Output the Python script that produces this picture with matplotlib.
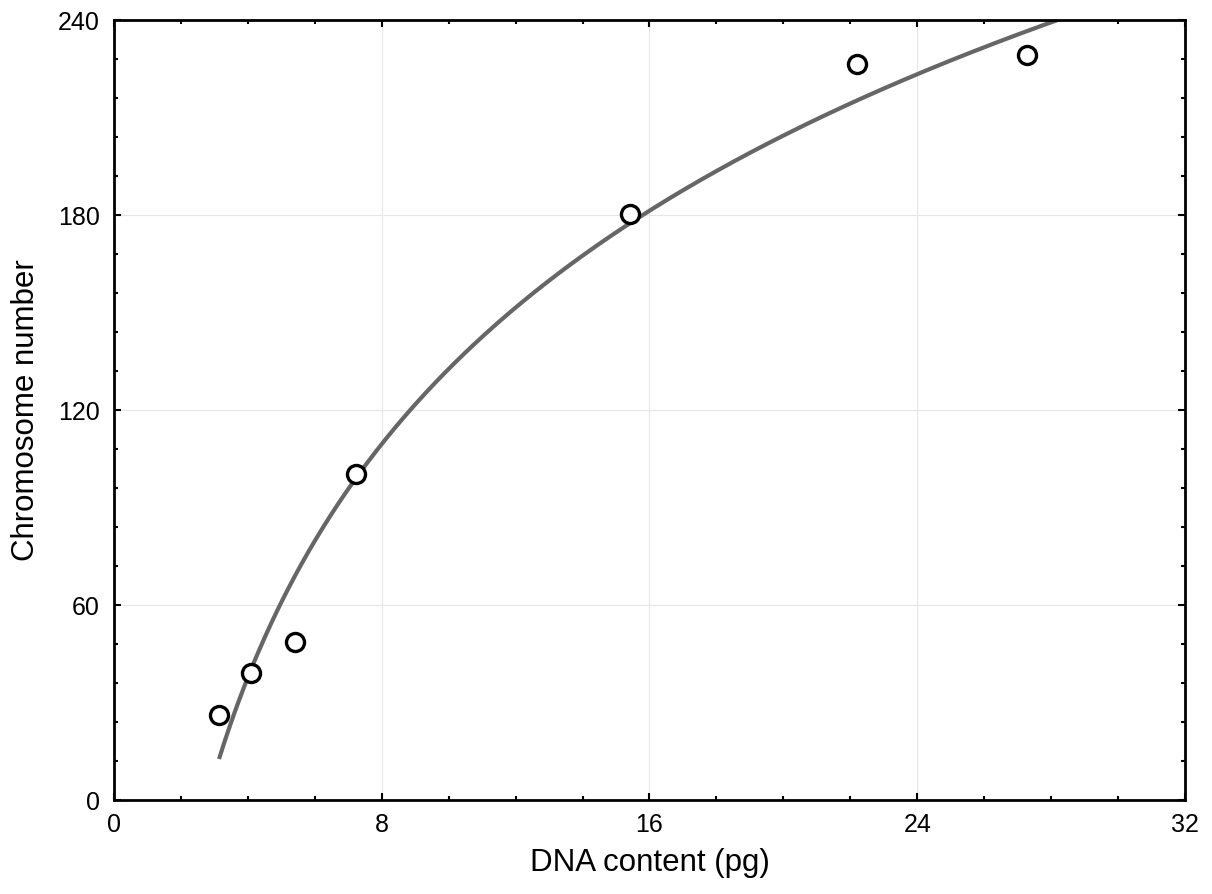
import numpy as np
import matplotlib
matplotlib.use("Agg")
import matplotlib.pyplot as plt
from matplotlib.ticker import MultipleLocator

plt.rcParams['font.family'] = ['Liberation Sans', 'DejaVu Sans']

# data
dna = [3.14, 4.09, 5.41, 7.23, 15.42, 22.2, 27.28]
chrom = [26.2, 39.1, 48.6, 100.3, 180.3, 226.5, 229.2]

# logarithmic fit  y = a + b*ln(x)
b, a = np.polyfit(np.log(dna), chrom, 1)
xfit = np.linspace(min(dna), 32, 400)
yfit = a + b * np.log(xfit)

fig = plt.figure(figsize=(12.12, 8.94), dpi=100)
ax = fig.add_axes([0.094, 0.105, 0.8837, 0.8725])

ax.plot(xfit, yfit, color='#666666', lw=3, solid_capstyle='butt', zorder=2)
ax.plot(dna, chrom, 'o', ms=13, mfc='white', mec='black', mew=2.4, zorder=3)

ax.set_xlim(0, 32)
ax.set_ylim(0, 240)
ax.xaxis.set_major_locator(MultipleLocator(8))
ax.xaxis.set_minor_locator(MultipleLocator(2))
ax.yaxis.set_major_locator(MultipleLocator(60))
ax.yaxis.set_minor_locator(MultipleLocator(12))
ax.tick_params(which='both', direction='in', top=True, right=True,
               labelsize=18, width=1.5)
ax.tick_params(axis='x', pad=9)
ax.tick_params(axis='y', pad=10)
ax.tick_params(which='major', length=5)
ax.tick_params(which='minor', length=3)
ax.grid(True, which='major', color='#e6e6e6', lw=0.8)
ax.set_axisbelow(True)
for s in ax.spines.values():
    s.set_linewidth(2)

ax.set_xlabel('DNA content (pg)', fontsize=22.5, labelpad=8)
ax.set_ylabel('Chromosome number', fontsize=22.5, labelpad=12)

fig.savefig('out.png', dpi=100)
